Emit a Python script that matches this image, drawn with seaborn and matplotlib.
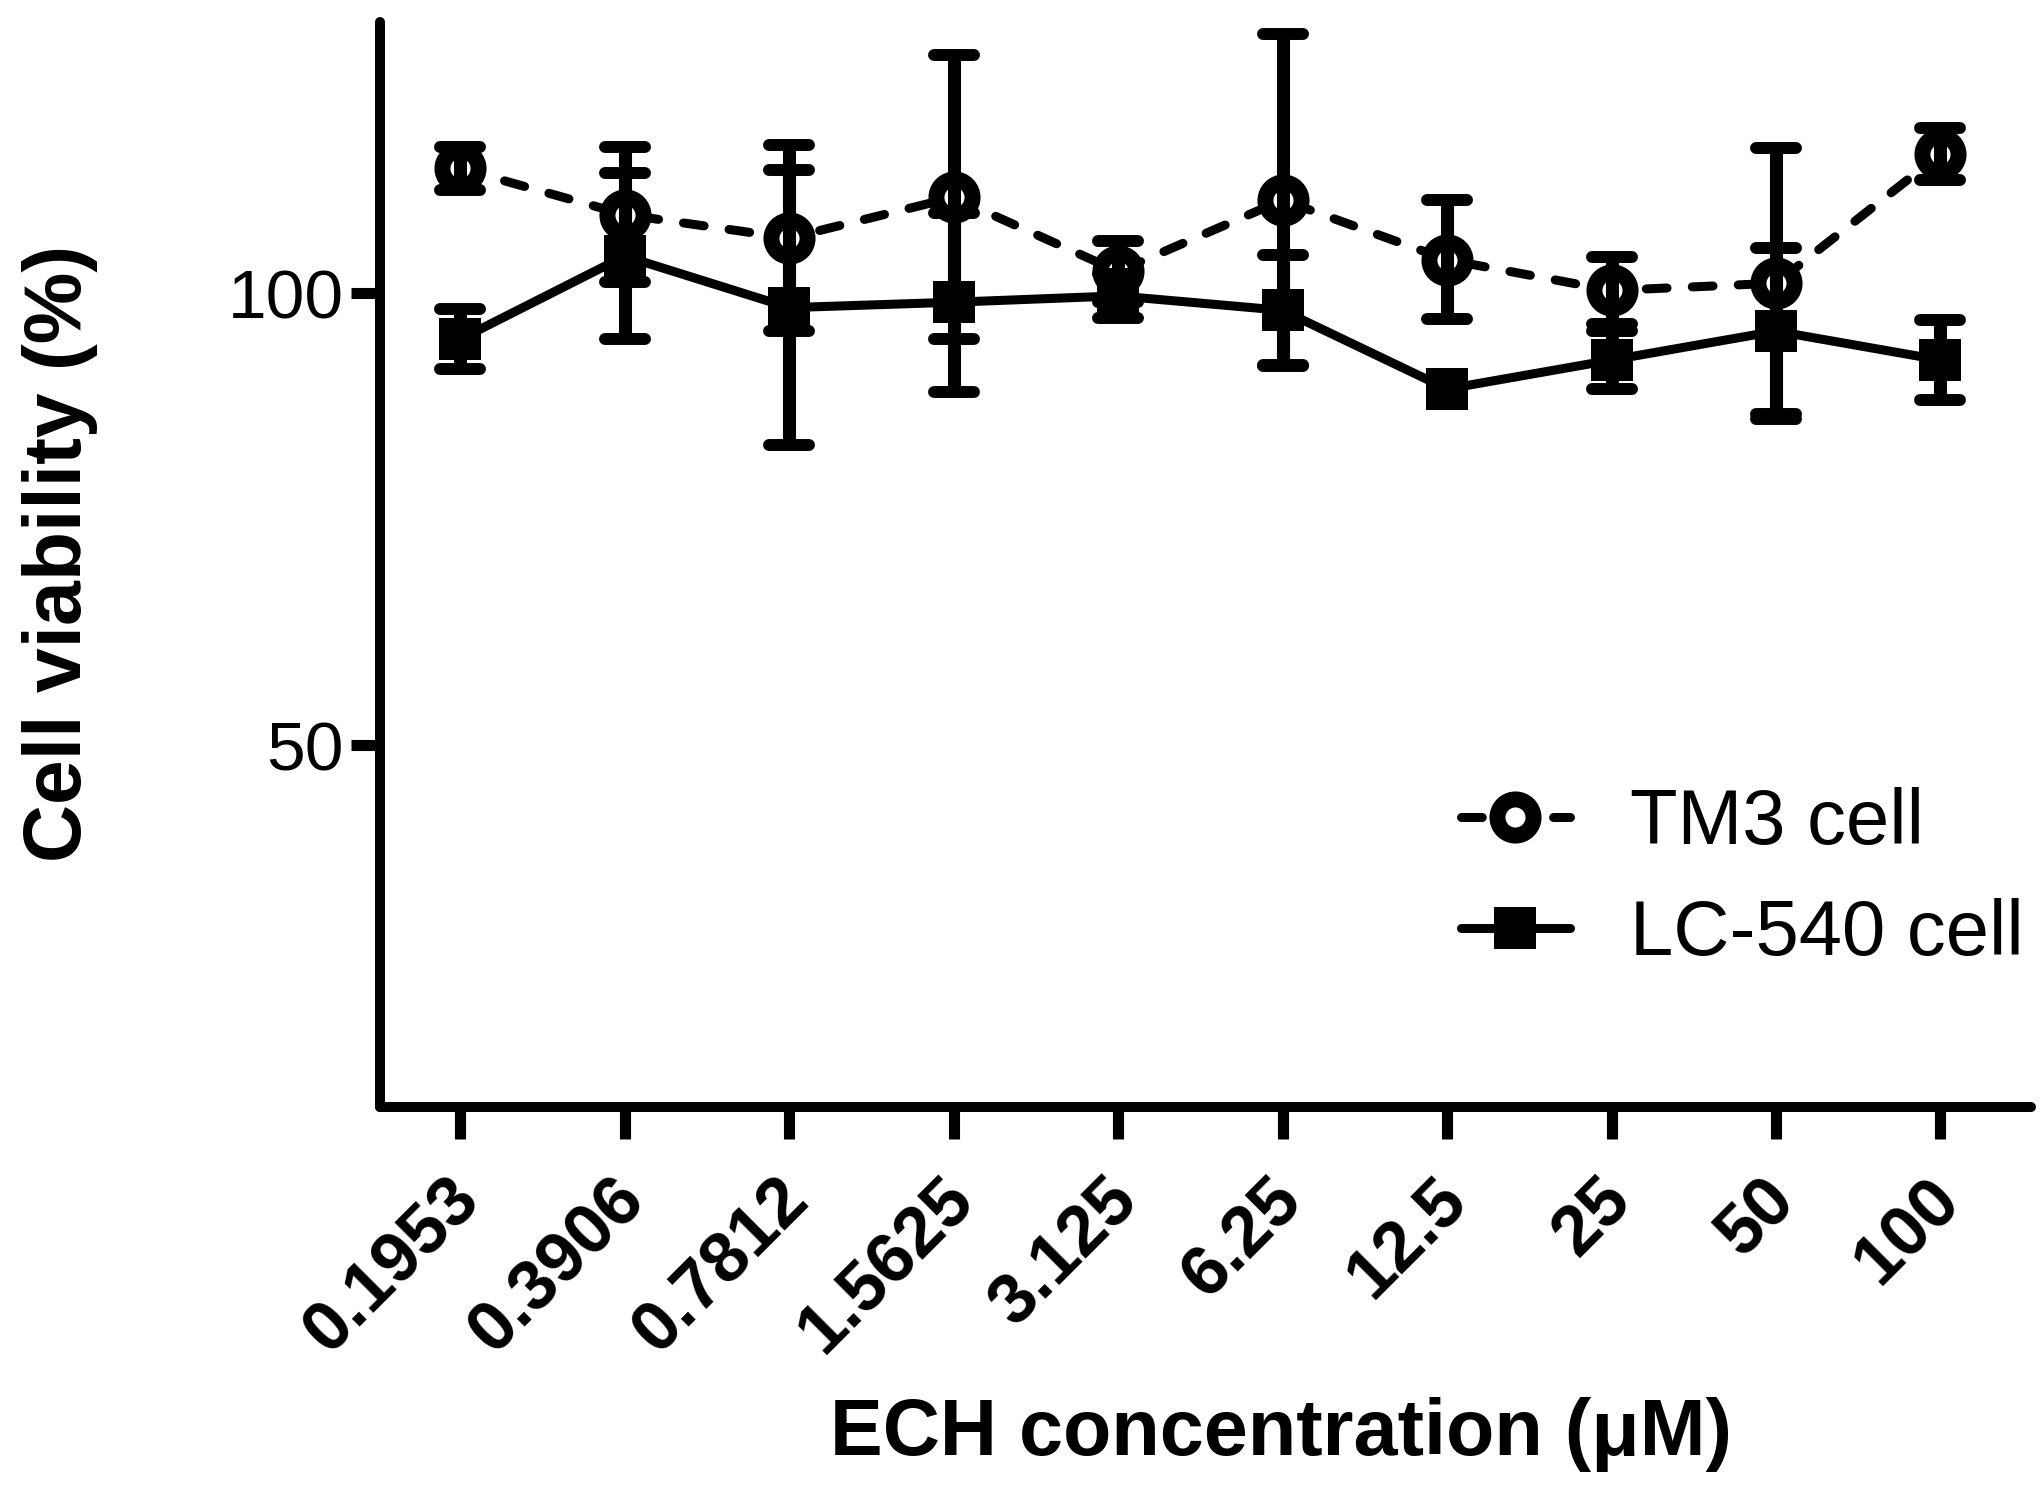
import numpy as np
import pandas as pd
import matplotlib
matplotlib.use('Agg')
import matplotlib.pyplot as plt
import matplotlib.transforms as mtransforms
from matplotlib.markers import MarkerStyle
import seaborn as sns

# valores
conc_labels = ['0.1953', '0.3906', '0.7812', '1.5625', '3.125', '6.25', '12.5', '25', '50', '100']
tm3_mean = [113.8, 108.7, 106.1, 110.6, 102.4, 110.3, 103.7, 100.3, 101.1, 115.4]
tm3_err = [2.4, 7.5, 10.3, 15.7, 3.4, 18.4, 6.6, 3.7, 15.0, 2.9]
lc_mean = [94.9, 104.1, 98.4, 99.0, 99.7, 98.1, 89.4, 92.6, 95.8, 92.6]
lc_err = [3.3, 9.2, 15.2, 9.9, 2.4, 6.1, np.nan, 3.2, 9.2, 4.4]

sns.set_style('ticks')
plt.rcParams['font.family'] = ['Liberation Sans', 'DejaVu Sans']
plt.rcParams['text.color'] = 'black'
plt.rcParams['axes.labelcolor'] = 'black'
plt.rcParams['xtick.color'] = 'black'
plt.rcParams['ytick.color'] = 'black'

pos = np.arange(len(conc_labels))
df = pd.DataFrame({'pos': pos, 'tm3': tm3_mean, 'lc': lc_mean})

fig = plt.figure(figsize=(20.44, 14.88), dpi=100)
ax = fig.add_axes([0.1859, 0.2563, 0.8077, 0.7289])

lw = 6.5
sns.lineplot(data=df, x='pos', y='tm3', ax=ax, color='black', lw=lw,
             linestyle=(0, (2.3, 2.8)), dash_capstyle='round',
             marker='o', markersize=26, markeredgewidth=11.5,
             markerfacecolor='white', markeredgecolor='black', label='TM3 cell')
sns.lineplot(data=df, x='pos', y='lc', ax=ax, color='black', lw=lw,
             marker='s', markersize=30, markeredgewidth=0,
             markerfacecolor='black', label='LC-540 cell')

# barras de error
for mean, err in [(tm3_mean, tm3_err), (lc_mean, lc_err)]:
    eb = ax.errorbar(pos, mean, yerr=err, fmt='none', ecolor='black',
                     elinewidth=9.4, capsize=14.4, capthick=8.6, zorder=3)
    for cap in eb[1]:
        cap.set_marker(MarkerStyle('_', capstyle='round'))

ax.set_xlim(-0.488, 9.55)
ax.set_ylim(10, 130)
ax.set_yticks([50, 100])
ax.set_xticks(pos)
ax.set_xticklabels(conc_labels, rotation=45, ha='right', va='center',
                   rotation_mode='anchor', fontsize=51, fontweight='bold')
ax.tick_params(axis='x', length=23, width=8, pad=37, direction='out', color='black')
ax.tick_params(axis='y', length=21, width=8, pad=5, labelsize=50, direction='out', color='black')

# pequeño desplazamiento a la derecha de las etiquetas del eje x
shift = mtransforms.ScaledTranslation(7 / 72, 0, fig.dpi_scale_trans)
for lab in ax.get_xticklabels():
    lab.set_transform(lab.get_transform() + shift)

sns.despine(ax=ax)
for s in ['left', 'bottom']:
    ax.spines[s].set_linewidth(7.2)
    ax.spines[s].set_color('black')
    ax.spines[s].set_capstyle('round')

ax.set_xlabel('ECH concentration (μM)', fontsize=57, fontweight='bold', va='center')
ax.xaxis.set_label_coords(0.546, -0.302)
ax.set_ylabel('Cell viability (%)', fontsize=58, fontweight='bold', va='center')
ax.yaxis.set_label_coords(-0.194, 0.51)

ax.legend(loc='upper left', bbox_to_anchor=(1461 / 2044, 1 - 787 / 1488),
          bbox_transform=fig.transFigure, frameon=False, fontsize=56,
          handlelength=1.4, handletextpad=0.77, labelspacing=0.49,
          borderpad=0, borderaxespad=0)

fig.savefig('out.png', dpi=100)
